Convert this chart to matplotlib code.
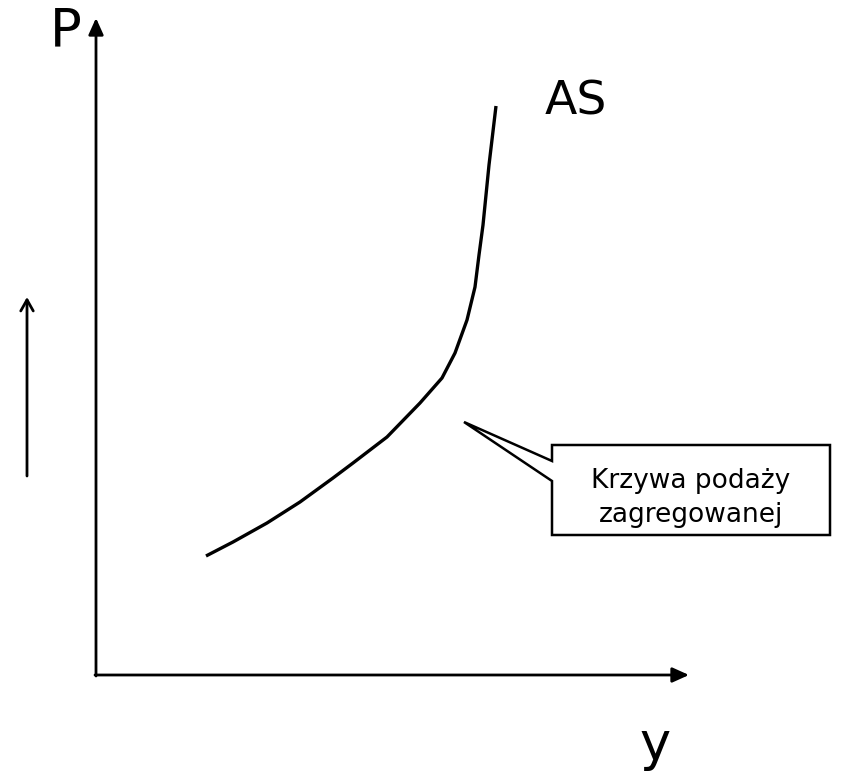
import matplotlib
matplotlib.use("Agg")
import matplotlib.pyplot as plt
from matplotlib.patches import Polygon

# AS curve points (pixel-like data units, y downward)
curve_x = [206, 233, 267, 300, 333, 353, 387, 420, 442, 455, 467, 475, 479, 483, 489, 496]
curve_y = [556, 542, 523, 502, 478, 463, 437, 403, 378, 353, 320, 287, 255, 225, 165, 106]

axis_labels = ["P", "y"]
curve_label = "AS"
callout_text = "Krzywa podaży\nzagregowanej"

fig = plt.figure(figsize=(8.42, 7.71), dpi=100)
ax = fig.add_axes([0, 0, 1, 1])
ax.set_xlim(0, 842)
ax.set_ylim(771, 0)
ax.axis("off")

# axes with arrows
ax.annotate("", xy=(96, 18), xytext=(96, 676),
            arrowprops=dict(arrowstyle="-|>,head_length=1.0,head_width=0.45", lw=2.0, color="black",
                            shrinkA=0, shrinkB=0))
ax.annotate("", xy=(689, 675), xytext=(95, 675),
            arrowprops=dict(arrowstyle="-|>,head_length=1.0,head_width=0.45", lw=2.0, color="black",
                            shrinkA=0, shrinkB=0))

ax.text(66, 31, axis_labels[0], fontsize=38, ha="center", va="center", family="DejaVu Sans")
ax.text(655, 745, axis_labels[1], fontsize=38, ha="center", va="center", family="DejaVu Sans")

# AS curve
ax.plot(curve_x, curve_y, color="black", lw=2.4, solid_capstyle="butt", solid_joinstyle="round")
ax.text(576, 102, curve_label, fontsize=34, ha="center", va="center", family="DejaVu Sans")

# left arrow (open head)
ax.annotate("", xy=(27, 297), xytext=(27, 476),
            arrowprops=dict(arrowstyle="->,head_length=0.8,head_width=0.45", lw=2.0, color="black",
                            shrinkA=0, shrinkB=0))

# callout box
poly = Polygon([(552, 445), (830, 445), (830, 535), (552, 535), (552, 481),
                (464, 422), (552, 461)], closed=True, facecolor="white",
               edgecolor="black", lw=1.8, joinstyle="miter")
ax.add_patch(poly)
ax.text(691, 498, callout_text, fontsize=19, ha="center", va="center",
        family="DejaVu Sans", linespacing=1.45)

fig.savefig("out.png", dpi=100)
